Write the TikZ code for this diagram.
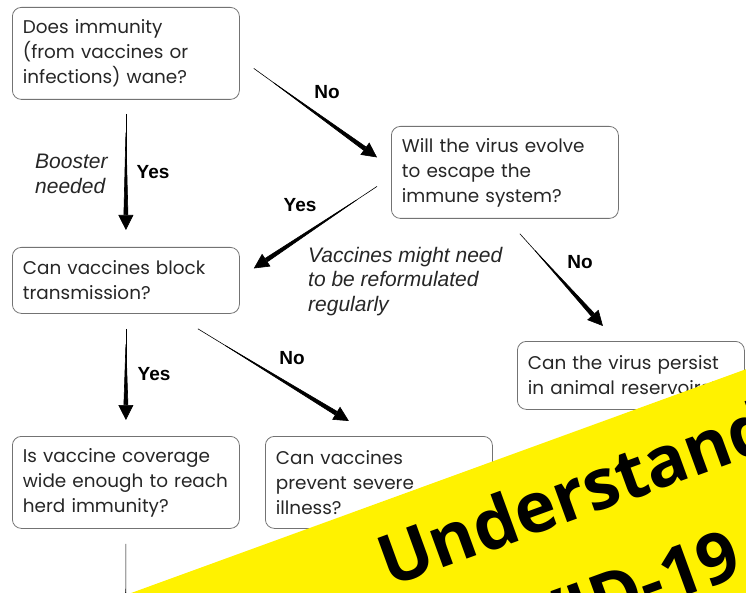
\documentclass[tikz,border=0pt]{standalone}
\usepackage{fontspec}
\setmainfont{Poppins}
\newfontfamily\notefont{Liberation Sans}
\newfontfamily\bannerfont{Open Sans}
\usetikzlibrary{arrows.meta}

\begin{document}
\begin{tikzpicture}[x=1pt, y=-1pt, line join=round,
  qbox/.style={draw=black!55, line width=0.8pt, rounded corners=9pt, anchor=north west,
    align=left, text width=206pt, inner xsep=10.5pt, inner ysep=0pt, minimum height=92pt,
    text=black!85, font=\fontsize{18.4}{25}\selectfont},
  ans/.style={font=\notefont\bfseries\fontsize{19}{20}\selectfont, inner sep=0pt},
  note/.style={font=\notefont\itshape\fontsize{21}{24.5}\selectfont, align=left,
    anchor=north west, inner sep=0pt, text=black!85},
  flow/.style={line width=0.6pt,
    -{Triangle[reversed, length=#1, width=4.5pt, sep=0pt]Triangle[length=15pt, width=15pt]}}]
  \useasboundingbox (0,0) rectangle (746,593);
  \clip (0,0) rectangle (746,593);
  % the questions
  \node[qbox] (immunity) at (12,7) {Does immunity\\(from vaccines or\\infections) wane?};
  \node[qbox] (evolve) at (391,126) {Will the virus evolve\\to escape the\\immune system?};
  \node[qbox, minimum height=66pt] (block) at (12,247) {Can vaccines block\\transmission?};
  \node[qbox, minimum height=68pt] (reservoir) at (517,341) {Can the virus persist\\in animal reservoirs?};
  \node[qbox] (coverage) at (12,436) {Is vaccine coverage\\wide enough to reach\\herd immunity?};
  \node[qbox] (severe) at (265,436) {Can vaccines\\prevent severe\\illness?};
  \coordinate (offpage) at (125.5,720);
  % the answers
  \draw[flow=95pt] ([yshift=-14pt]immunity.south) -- ([yshift=17pt]block.north);
  \draw[flow=130pt] ([xshift=14pt,yshift=-15pt]immunity.east) -- ([xshift=-14pt,yshift=15pt]evolve.west);
  \draw[flow=125pt] ([xshift=-14pt,yshift=-14pt]evolve.west) -- ([xshift=14pt,yshift=12pt]block.east);
  \draw[flow=100pt] ([xshift=15pt,yshift=-15pt]evolve.south) -- ([xshift=-28pt,yshift=15pt]reservoir.north);
  \draw[flow=70pt] ([yshift=-15pt]block.south) -- ([yshift=16pt]coverage.north);
  \draw[flow=150pt] ([xshift=72pt,yshift=-15pt]block.south) -- ([xshift=-30pt,yshift=15pt]severe.north);
  \draw[flow=130pt] ([yshift=-15pt]coverage.south) -- (offpage);
  \node[ans] (no1) at (327,92) {No};
  \node[ans] (yes1) at (153,172) {Yes};
  \node[note] (booster) at (35,154) {Booster\\needed};
  \node[ans] (yes2) at (300,205) {Yes};
  \node[note] (reform) at (308,247) {Vaccines might need\\to be reformulated\\regularly};
  \node[ans] (no2) at (580,262) {No};
  \node[ans] (yes3) at (154,374) {Yes};
  \node[ans] (no3) at (292,358) {No};
  % the banner
  \begin{scope}[shift={(389,588)}, rotate=20, transform shape]
    \fill[yellow] (-400,-83.5) rectangle (900,400);
    \node[font=\bannerfont\bfseries\fontsize{70}{80}\selectfont, anchor=base west, inner sep=0pt] (title) at (0,0) {Understanding};
    \node[font=\bannerfont\bfseries\fontsize{70}{80}\selectfont, anchor=base west, inner sep=0pt] (covid) at (18,109) {COVID-19};
  \end{scope}
\end{tikzpicture}
\end{document}
